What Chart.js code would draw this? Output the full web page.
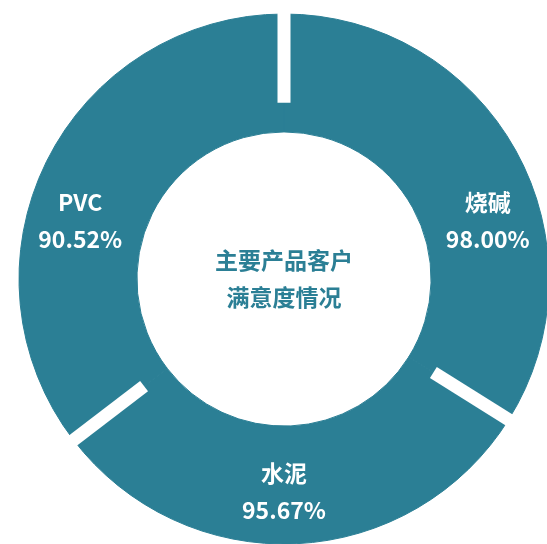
<!DOCTYPE html>
<html>
<head>
<meta charset="utf-8">
<script src="https://cdn.jsdelivr.net/npm/chart.js@4.4.1/dist/chart.umd.min.js"></script>
<style>
  html, body { margin: 0; padding: 0; background: #fff; overflow: hidden; width: 547px; height: 544px; }
  #wrap { position: absolute; left: -16px; top: -21px; width: 600px; height: 600px; }
</style>
</head>
<body>
<div id="wrap"><canvas id="ring" width="600" height="600"></canvas></div>
<script>
// --- DATA ---
const categories = ["烧碱", "水泥", "PVC"];
const satisfaction = ["98.00%", "95.67%", "90.52%"];   // printed values
const sliceShare = [33.9, 30.7, 35.4];                 // ring share of each slice
const centerTitle = ["主要产品客户", "满意度情况"];

const teal = "#2b7f95";
const fontFamily = '"Noto Sans CJK SC", "Noto Sans", sans-serif';

// white separator ticks at each slice boundary
const separatorPlugin = {
    id: "separators",
    afterDatasetsDraw(chart) {
        const ctx = chart.ctx;
        const meta = chart.getDatasetMeta(0);
        ctx.save();
        ctx.strokeStyle = "#ffffff";
        ctx.lineWidth = 13;
        ctx.lineCap = "butt";
        meta.data.forEach(arc => {
            const a = arc.startAngle;
            const rIn = arc.outerRadius * 0.665;
            const rOut = arc.outerRadius + 3;
            ctx.beginPath();
            ctx.moveTo(arc.x + Math.cos(a) * rIn, arc.y + Math.sin(a) * rIn);
            ctx.lineTo(arc.x + Math.cos(a) * rOut, arc.y + Math.sin(a) * rOut);
            ctx.stroke();
        });
        ctx.restore();
    }
};

// slice labels + centre title
const labelPlugin = {
    id: "ringLabels",
    afterDraw(chart, args, opts) {
        const ctx = chart.ctx;
        const meta = chart.getDatasetMeta(0);
        const arc0 = meta.data[0];
        const cx = arc0.x, cy = arc0.y;
        const rLabel = arc0.outerRadius * 0.8;
        ctx.save();
        ctx.textAlign = "center";
        ctx.textBaseline = "middle";
        ctx.fillStyle = "#ffffff";
        ctx.font = "bold 23px " + fontFamily;
        categories.forEach((name, i) => {
            const deg = opts.angles[i] * Math.PI / 180;
            const x = cx + Math.sin(deg) * rLabel;
            const y = cy - Math.cos(deg) * rLabel;
            ctx.fillText(name, x, y - 18);
            ctx.fillText(satisfaction[i], x, y + 19);
        });
        ctx.fillStyle = teal;
        ctx.font = "bold 23px " + fontFamily;
        ctx.fillText(centerTitle[0], cx, cy - 19);
        ctx.fillText(centerTitle[1], cx, cy + 18);
        ctx.restore();
    }
};

new Chart(document.getElementById("ring"), {
    type: "doughnut",
    data: {
        labels: categories,
        datasets: [{
            data: sliceShare,
            backgroundColor: teal,
            borderColor: teal,
            borderWidth: 1,
            hoverOffset: 0,
            offset: 0
        }]
    },
    options: {
        responsive: false,
        animation: false,
        cutout: "55.5%",
        layout: { padding: 34.5 },
        plugins: {
            legend: { display: false },
            tooltip: { enabled: false },
            ringLabels: { angles: [74, 180, 286] }
        }
    },
    plugins: [separatorPlugin, labelPlugin]
});
</script>
</body>
</html>
